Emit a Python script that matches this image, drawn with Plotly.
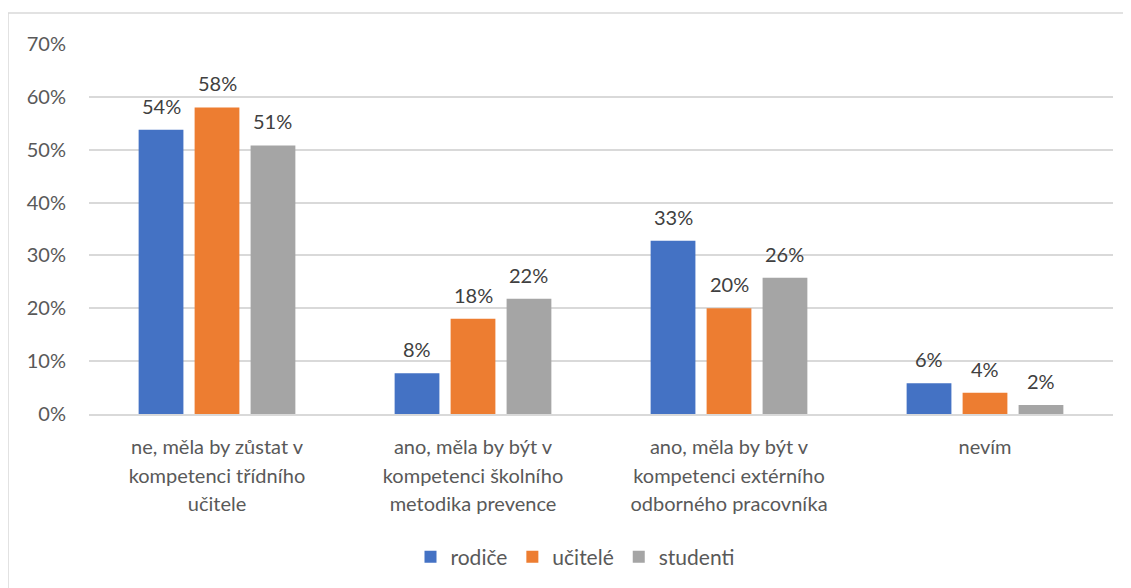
import plotly.graph_objects as go

categories = [
    "ne, měla by zůstat v<br>kompetenci třídního<br>učitele",
    "ano, měla by být v<br>kompetenci školního<br>metodika prevence",
    "ano, měla by být v<br>kompetenci extérního<br>odborného pracovníka",
    "nevím",
]
series_names = ["rodiče", "učitelé", "studenti"]
rodice = [0.538, 0.077, 0.328, 0.058]
ucitele = [0.580, 0.180, 0.200, 0.040]
studenti = [0.508, 0.218, 0.258, 0.017]
colors = ["#4472C4", "#ED7D31", "#A5A5A5"]
y_ticks = [0, 0.1, 0.2, 0.3, 0.4, 0.5, 0.6, 0.7]

FONT = "Lato, 'Open Sans', sans-serif"
TXT = "#595959"

# page body has 8px margin -> figure is drawn at (8, 8)
W, H = 1123, 580
L, R, T, B = 81, 18, 36, 173
pw, ph = W - L - R, H - T - B
BARGAP, GROUPGAP = 0.344, 0.2


def px_x(p):
    return (p - L) / pw


def px_y(p):
    return (H - B - p) / ph


tick_text = ["<br>".join(f'<span style="font-size:20px">{ln}</span>' for ln in c.split("<br>"))
             for c in categories]

fig = go.Figure()
series = [rodice, ucitele, studenti]
slot = pw / len(categories) * (1 - BARGAP) / len(series)
annotations = []
for i, (name, vals, col) in enumerate(zip(series_names, series, colors)):
    fig.add_trace(go.Bar(
        name=name, x=categories, y=vals, marker_color=col,
        marker_line_width=0, hoverinfo="x+y+name",
    ))
    for c, v in zip(categories, vals):
        annotations.append(dict(
            x=c, y=v, xref="x", yref="y", text=f"{round(v*100):.0f}%",
            showarrow=False, xshift=(i - 1) * slot, yshift=24,
            xanchor="center", yanchor="middle",
            font=dict(family=FONT, size=20, color="#404040"),
        ))

fig.update_layout(
    width=W, height=H,
    margin=dict(l=L, r=R, t=T, b=B),
    paper_bgcolor="white", plot_bgcolor="white",
    barmode="group", bargap=BARGAP, bargroupgap=GROUPGAP,
    font=dict(family=FONT, size=20, color=TXT),
    showlegend=True,
    legend=dict(orientation="h", x=px_x(567), y=px_y(549), xanchor="center", yanchor="middle",
                font=dict(family=FONT, size=21, color=TXT), traceorder="normal"),
    xaxis=dict(showgrid=False, showline=True, linecolor="#D9D9D9", linewidth=1.5,
               ticks="", tickvals=categories, ticktext=tick_text, ticklabelstandoff=11,
               tickfont=dict(family=FONT, size=22.3, color=TXT), fixedrange=True),
    yaxis=dict(range=[0, 0.7], tickvals=y_ticks, tickformat=".0%", showgrid=True,
               gridcolor="#D9D9D9", gridwidth=1.5, zeroline=False, showline=False,
               ticks="", ticklabelstandoff=22,
               tickfont=dict(family=FONT, size=20, color=TXT)),
    annotations=annotations,
    shapes=[dict(type="rect", xref="paper", yref="paper",
                 x0=px_x(0), x1=px_x(1140), y0=px_y(600), y1=px_y(5),
                 line=dict(color="#D9D9D9", width=1.5), fillcolor="rgba(0,0,0,0)", layer="below")],
)

fig.write_html("out.html")
